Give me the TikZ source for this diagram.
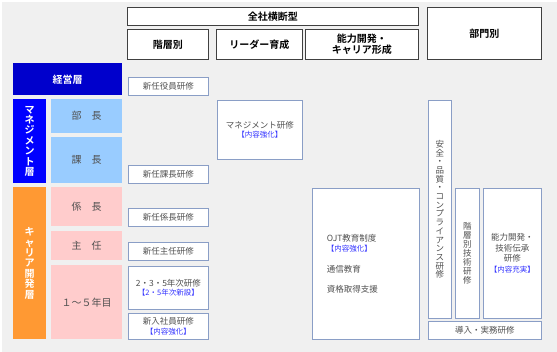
\documentclass[tikz,border=0pt]{standalone}
\usepackage{fontspec}
\setmainfont{Noto Sans CJK JP}[BoldFont={Noto Sans CJK JP Bold}]

\definecolor{bg_gray}{RGB}{240,240,240}
\definecolor{navy_keiei}{RGB}{0,0,204}
\definecolor{blue_mgmt}{RGB}{0,0,255}
\definecolor{sky_rank}{RGB}{153,204,255}
\definecolor{orange_career}{RGB}{255,153,51}
\definecolor{pink_rank}{RGB}{255,204,204}
\definecolor{edge_blue}{RGB}{138,158,198}
\definecolor{gray_text}{RGB}{80,80,80}
\definecolor{blue_note}{RGB}{51,51,255}

\newcommand{\kaizen}[1]{{\color{blue_note}\fontsize{7.5}{9.5}\selectfont #1}}

\begin{document}
\begin{tikzpicture}[
    x=1pt, y=-1pt,
    head/.style={rectangle, draw=black!75, fill=white, line width=0.9pt,
                 anchor=north west, inner sep=0pt, align=center,
                 font=\bfseries\fontsize{10}{11}\selectfont},
    layer/.style={rectangle, anchor=north west, inner sep=0pt, align=center,
                  text=white, font=\bfseries\fontsize{10}{10.4}\selectfont},
    rank/.style={rectangle, anchor=north west, inner sep=0pt,
                 text=gray_text, font=\fontsize{10}{12}\selectfont},
    course/.style={rectangle, draw=edge_blue, fill=white, line width=1.4pt,
                   anchor=north west, inner sep=0pt, align=center,
                   text=gray_text, font=\fontsize{8.5}{9.5}\selectfont}
]
    \useasboundingbox (0,0) rectangle (557,352);
    \fill[white] (0,0) rectangle (557,352);
    \fill[bg_gray] (2,2) rectangle (557,352);

    % Header row
    \node[head, minimum width=291pt, minimum height=18pt] (zensha) at (127,7) {全社横断型};
    \node[head, minimum width=81pt,  minimum height=30pt] (kaiso)  at (127,29) {階層別};
    \node[head, minimum width=86pt,  minimum height=30pt] (leader) at (216,29) {リーダー育成};
    \node[head, minimum width=113pt, minimum height=30pt] (career) at (305,29) {能力開発・\\キャリア形成};
    \node[head, minimum width=114pt, minimum height=52pt] (bumon)  at (427,7)  {部門別};

    % Layers
    \node[layer, fill=navy_keiei, minimum width=109pt, minimum height=32pt] (keiei) at (13,63) {経営層};
    \node[layer, fill=blue_mgmt, minimum width=33pt, minimum height=84pt] (mgmt) at (13,99)
        {マ\\ネ\\ジ\\メ\\ン\\ト\\層};
    \node[layer, fill=orange_career, minimum width=33pt, minimum height=152pt] (carlayer) at (13,187)
        {キ\\ャ\\リ\\ア\\開\\発\\層};

    % Ranks
    \node[rank, fill=sky_rank,  minimum width=71pt, minimum height=34pt] (bucho)  at (51,99)  {部　長};
    \node[rank, fill=sky_rank,  minimum width=71pt, minimum height=46pt] (kacho)  at (51,137) {課　長};
    \node[rank, fill=pink_rank, minimum width=71pt, minimum height=39pt] (kakari) at (51,187) {係　長};
    \node[rank, fill=pink_rank, minimum width=71pt, minimum height=29pt] (shunin) at (51,231) {主　任};
    \node[rank, fill=pink_rank, minimum width=71pt, minimum height=74pt] (nenme)  at (51,265) {１～５年目};

    % Courses by rank
    \node[course, minimum width=80pt, minimum height=18pt] (c_yakuin) at (127.7,76.7)  {新任役員研修};
    \node[course, minimum width=80pt, minimum height=18pt] (c_kacho)  at (127.7,164.7) {新任課長研修};
    \node[course, minimum width=80pt, minimum height=18pt] (c_kakari) at (127.7,207.7) {新任係長研修};
    \node[course, minimum width=80pt, minimum height=18pt] (c_shunin) at (127.7,241.7) {新任主任研修};
    \node[course, minimum width=80pt, minimum height=43pt] (c_nenji)  at (127.7,265.7)
        {2・3・5年次研修\\\kaizen{【2・5年次新設】}};
    \node[course, minimum width=80pt, minimum height=26pt] (c_shinnyu) at (127.7,312.7)
        {新入社員研修\\\kaizen{【内容強化】}};

    % Leader training
    \node[course, minimum width=85pt, minimum height=59pt] (c_mgmt) at (216.7,99.7)
        {マネジメント研修\\\kaizen{【内容強化】}};

    % Ability development
    \node[course, minimum width=107pt, minimum height=151pt, text width=78pt, align=left,
          font=\fontsize{8.5}{10.5}\selectfont] (c_ojt) at (311.7,187.7)
        {OJT教育制度\\\kaizen{【内容強化】}\\[10pt]通信教育\\[10pt]資格取得支援};

    % Department courses
    \node[course, minimum width=23pt, minimum height=218pt, font=\fontsize{8.5}{8.7}\selectfont] (c_anzen) at (427.7,99.7)
        {安\\全\\・\\品\\質\\・\\コ\\ン\\プ\\ラ\\イ\\ア\\ン\\ス\\研\\修};
    \node[course, minimum width=24pt, minimum height=130pt, font=\fontsize{8.5}{9}\selectfont] (c_gijutsu) at (454.7,187.7)
        {階\\層\\別\\技\\術\\研\\修};
    \node[course, minimum width=58pt, minimum height=130pt, font=\fontsize{8.5}{10.5}\selectfont] (c_denshou) at (482.7,187.7)
        {能力開発・\\技術伝承\\研修\\\kaizen{【内容充実】}};
    \node[course, minimum width=113pt, minimum height=18pt] (c_donyu) at (427.7,320.7) {導入・実務研修};

\end{tikzpicture}
\end{document}
